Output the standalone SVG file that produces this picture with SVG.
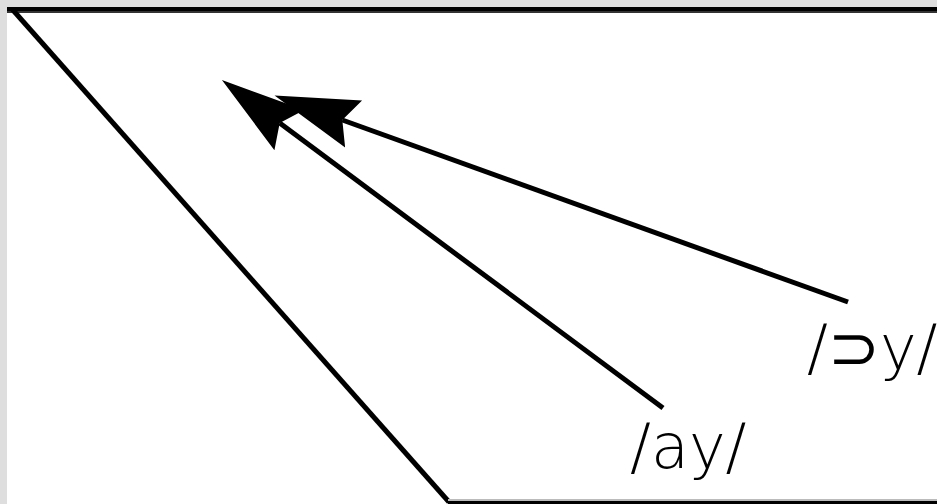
<svg xmlns="http://www.w3.org/2000/svg" width="937" height="504" viewBox="0 0 937 504">
<style>
.ln{stroke:#000;stroke-width:5;fill:none}
.lbl{font-family:"DejaVu Sans",sans-serif;font-size:62px;font-weight:200;fill:#000}
</style>
<defs>
<marker id="ah" markerUnits="userSpaceOnUse" markerWidth="90" markerHeight="60" viewBox="0 -30 90 60" refX="12" refY="0" orient="auto">
<path d="M84,0 L0,-25 L12,0 L0,25 Z" fill="#000"/>
</marker>
</defs>
<rect x="0" y="0" width="937" height="504" fill="#dedede"/>
<rect x="7" y="7" width="930" height="497" fill="#fff"/>
<g id="frame">
<rect x="7" y="7" width="930" height="4" fill="#000"/>
<rect x="7" y="11" width="930" height="2" fill="#333"/>
<line class="ln" x1="12" y1="9" x2="449" y2="502"/>
<rect x="448" y="499" width="489" height="2" fill="#bbb"/>
<rect x="448" y="501" width="489" height="3" fill="#000"/>
</g>
<g id="connectors">
<line class="ln" x1="663" y1="408" x2="279.7" y2="123" marker-end="url(#ah)"/>
<line class="ln" x1="848" y1="302" x2="342.3" y2="120" marker-end="url(#ah)"/>
</g>
<g id="label-ay"><text class="lbl" x="630" y="468">/ay/</text></g>
<g id="label-oy"><text class="lbl" x="807" y="369">/⊃y/</text></g>
</svg>
